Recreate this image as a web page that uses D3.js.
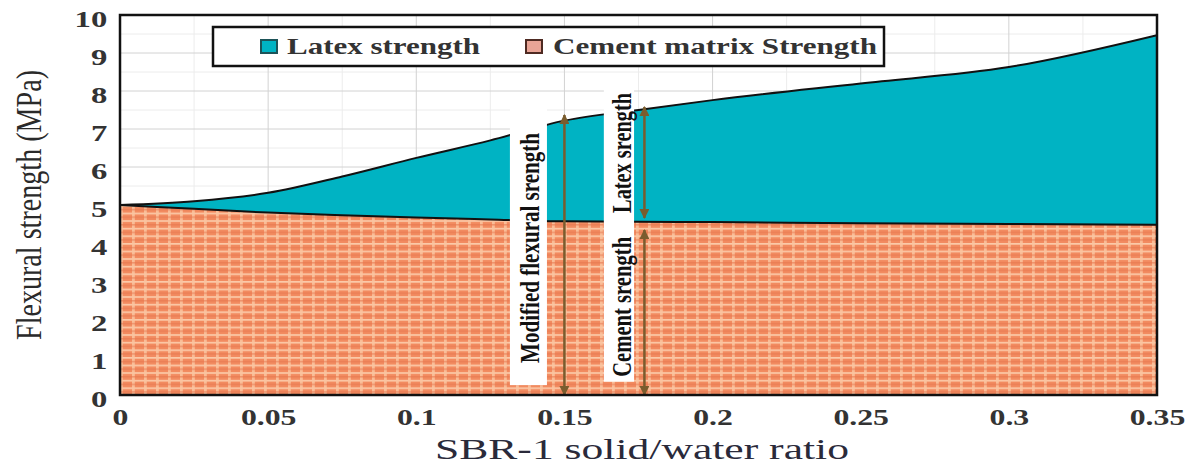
<!DOCTYPE html>
<html>
<head>
<meta charset="utf-8">
<script src="https://cdn.jsdelivr.net/npm/d3@7"></script>
<style>
body { margin: 0; background: #fff; }
svg { display: block; font-family: 'Liberation Serif', 'Times New Roman', serif; }
</style>
</head>
<body>
<svg id="chart"></svg>
<script>
// values
var ratio = [0, 0.025, 0.05, 0.075, 0.1, 0.125, 0.15, 0.175, 0.2, 0.25, 0.3, 0.35];
var cementStrength = [5.0, 4.9, 4.8, 4.73, 4.67, 4.62, 4.57, 4.56, 4.55, 4.52, 4.5, 4.48];
var latexStrength = [0, 0.2, 0.52, 1.02, 1.57, 2.08, 2.65, 2.94, 3.21, 3.68, 4.13, 4.99];
var xTicks = [0, 0.05, 0.1, 0.15, 0.2, 0.25, 0.3, 0.35];
var xTickLabels = ['0', '0.05', '0.1', '0.15', '0.2', '0.25', '0.3', '0.35'];
var yTicks = [0, 1, 2, 3, 4, 5, 6, 7, 8, 9, 10];
var yTickLabels = ['0', '1', '2', '3', '4', '5', '6', '7', '8', '9', '10'];
var legendLabels = ['Latex strength', 'Cement matrix Strength'];

// annotations (data units)
var arrowX = [0.15, 0.177, 0.177];
var arrowFrom = [0, 4.66, 0];
var arrowTo = [7.37, 7.58, 4.34];
var boxX0 = [0.1316, 0.1633];
var boxX1 = [0.1441, 0.1735];
var boxY0 = [0.26, 0.35];
var boxY1 = [7.8, 8.1];
var noteText = ['Modified flexural srength', 'Latex srength', 'Cement srength'];
var noteX = [0.1384, 0.1694, 0.1694];
var noteY = [3.87, 6.37, 2.32];
var noteLen = [230, 120, 140];

var svgWidth = 1185;
var svgHeight = 466;
var plotLeft = 120, plotRight = 1157, plotTop = 15, plotBottom = 395;
var teal = '#00b3c3';
var arrowColor = '#7a5c2e';

var svg = d3.select('#chart')
	.attr('width', svgWidth)
	.attr('height', svgHeight);

var xScale = d3.scaleLinear().domain([0, 0.35]).range([plotLeft, plotRight]);
var yScale = d3.scaleLinear().domain([0, 10]).range([plotBottom, plotTop]);

var defs = svg.append('defs');
var pat = defs.append('pattern')
	.attr('id', 'plaid')
	.attr('patternUnits', 'userSpaceOnUse')
	.attr('x', plotLeft).attr('y', plotTop)
	.attr('width', 12).attr('height', 7.6);
pat.append('rect').attr('width', 12).attr('height', 7.6).attr('fill', '#f28b60');
pat.append('rect').attr('x', 0).attr('y', 0).attr('width', 12).attr('height', 1.7).attr('fill', '#fbc9a8');
pat.append('rect').attr('x', 0).attr('y', 0).attr('width', 2.8).attr('height', 7.6).attr('fill', '#fac4a0').attr('opacity', 0.85);
pat.append('rect').attr('x', 0).attr('y', 4.2).attr('width', 12).attr('height', 0.9).attr('fill', '#e6774f');

defs.append('clipPath').attr('id', 'plotClip')
	.append('rect')
	.attr('x', plotLeft).attr('y', plotTop)
	.attr('width', plotRight - plotLeft).attr('height', plotBottom - plotTop);

defs.append('marker')
	.attr('id', 'head')
	.attr('viewBox', '0 0 10 10')
	.attr('refX', 9).attr('refY', 5)
	.attr('markerWidth', 10).attr('markerHeight', 10)
	.attr('markerUnits', 'userSpaceOnUse')
	.attr('orient', 'auto-start-reverse')
	.append('path')
	.attr('d', 'M0,0L10,5L0,10Z')
	.attr('fill', arrowColor);

// grid
var grid = svg.append('g');
grid.selectAll('.vminor')
	.data(d3.range(1, 14, 2).map(i => i * 0.025))
	.enter().append('line')
	.attr('x1', d => xScale(d)).attr('x2', d => xScale(d))
	.attr('y1', plotTop).attr('y2', plotBottom)
	.attr('stroke', '#ececec');
grid.selectAll('.hminor')
	.data(d3.range(0, 10).map(i => i + 0.5))
	.enter().append('line')
	.attr('x1', plotLeft).attr('x2', plotRight)
	.attr('y1', d => yScale(d)).attr('y2', d => yScale(d))
	.attr('stroke', '#ececec');
grid.selectAll('.vmajor')
	.data(xTicks)
	.enter().append('line')
	.attr('x1', d => xScale(d)).attr('x2', d => xScale(d))
	.attr('y1', plotTop).attr('y2', plotBottom)
	.attr('stroke', '#d2d2d2');
grid.selectAll('.hmajor')
	.data(yTicks)
	.enter().append('line')
	.attr('x1', plotLeft).attr('x2', plotRight)
	.attr('y1', d => yScale(d)).attr('y2', d => yScale(d))
	.attr('stroke', '#d2d2d2');

// stacked areas
var rows = ratio.map((r, i) => ({ratio: r, cement: cementStrength[i], latex: latexStrength[i]}));
var series = d3.stack().keys(['cement', 'latex'])(rows);
var area = d3.area()
	.x(d => xScale(d.data.ratio))
	.y0(d => yScale(d[0]))
	.y1(d => yScale(d[1]))
	.curve(d3.curveMonotoneX);
var line = d3.line()
	.x(d => xScale(d.data.ratio))
	.y(d => yScale(d[1]))
	.curve(d3.curveMonotoneX);

var plot = svg.append('g').attr('clip-path', 'url(#plotClip)');
plot.selectAll('path.area')
	.data(series)
	.enter().append('path')
	.attr('class', 'area')
	.attr('d', area)
	.attr('fill', d => d.key === 'cement' ? 'url(#plaid)' : teal);
plot.selectAll('path.edge')
	.data(series)
	.enter().append('path')
	.attr('class', 'edge')
	.attr('d', line)
	.attr('fill', 'none')
	.attr('stroke', '#111')
	.attr('stroke-width', 2);

// white label boxes
plot.selectAll('rect.box')
	.data(boxX0)
	.enter().append('rect')
	.attr('class', 'box')
	.attr('x', d => xScale(d))
	.attr('width', (d, i) => xScale(boxX1[i]) - xScale(d))
	.attr('y', (d, i) => yScale(boxY1[i]))
	.attr('height', (d, i) => yScale(boxY0[i]) - yScale(boxY1[i]))
	.attr('fill', '#fff');

// arrows
plot.selectAll('line.arrow')
	.data(arrowX)
	.enter().append('line')
	.attr('class', 'arrow')
	.attr('x1', d => xScale(d)).attr('x2', d => xScale(d))
	.attr('y1', (d, i) => yScale(arrowFrom[i]))
	.attr('y2', (d, i) => yScale(arrowTo[i]))
	.attr('stroke', arrowColor)
	.attr('stroke-width', 2.5)
	.attr('marker-start', 'url(#head)')
	.attr('marker-end', 'url(#head)');

// rotated notes
svg.selectAll('text.note')
	.data(noteText)
	.enter().append('text')
	.attr('class', 'note')
	.attr('transform', (d, i) => `translate(${xScale(noteX[i])},${yScale(noteY[i])}) scale(1.35,1) rotate(-90)`)
	.attr('text-anchor', 'middle')
	.attr('dy', '0.33em')
	.attr('font-size', 21)
	.attr('font-weight', 'bold')
	.attr('fill', '#111')
	.attr('textLength', (d, i) => noteLen[i])
	.attr('lengthAdjust', 'spacingAndGlyphs')
	.text(d => d);

// frame
svg.append('rect')
	.attr('x', plotLeft).attr('y', plotTop)
	.attr('width', plotRight - plotLeft).attr('height', plotBottom - plotTop)
	.attr('fill', 'none')
	.attr('stroke', '#111')
	.attr('stroke-width', 2.5);

// axes
var xAxis = d3.axisBottom(xScale)
	.tickValues(xTicks)
	.tickFormat((d, i) => xTickLabels[i])
	.tickSize(0);
var yAxis = d3.axisLeft(yScale)
	.tickValues(yTicks)
	.tickFormat((d, i) => yTickLabels[i])
	.tickSize(0);

var gx = svg.append('g')
	.attr('transform', `translate(0,${plotBottom})`)
	.call(xAxis);
gx.select('.domain').remove();
gx.selectAll('text')
	.attr('y', 30).attr('dy', 0)
	.attr('transform', 'scale(1.38,1)')
	.attr('font-family', "'Liberation Serif', serif")
	.attr('font-size', 23)
	.attr('font-weight', 'bold')
	.attr('fill', '#333');

var gy = svg.append('g')
	.attr('transform', `translate(${plotLeft},0)`)
	.call(yAxis);
gy.select('.domain').remove();
gy.selectAll('text')
	.attr('x', -9).attr('dy', '0.48em')
	.attr('transform', 'scale(1.42,1)')
	.attr('font-family', "'Liberation Serif', serif")
	.attr('font-size', 23)
	.attr('font-weight', 'bold')
	.attr('fill', '#333');

// axis titles
svg.append('text')
	.attr('x', 642)
	.attr('y', 459)
	.attr('text-anchor', 'middle')
	.attr('font-size', 29)
	.attr('fill', '#2a2a3a')
	.attr('textLength', 414)
	.attr('lengthAdjust', 'spacingAndGlyphs')
	.text('SBR-1 solid/water ratio');
svg.append('text')
	.attr('transform', 'translate(29,205) scale(1.4,1) rotate(-90)')
	.attr('text-anchor', 'middle')
	.attr('dy', '0.33em')
	.attr('font-size', 25)
	.attr('fill', '#2a2a2a')
	.attr('textLength', 270)
	.attr('lengthAdjust', 'spacingAndGlyphs')
	.text('Flexural strength (MPa)');

// legend
var legend = svg.append('g');
legend.append('rect')
	.attr('x', 213).attr('y', 27)
	.attr('width', 671).attr('height', 39)
	.attr('fill', '#fff')
	.attr('stroke', '#111')
	.attr('stroke-width', 2.5);
var swatchX = [261, 526];
var labelX = [287, 553];
var labelLen = [193, 324];
legend.selectAll('rect.sw')
	.data(legendLabels)
	.enter().append('rect')
	.attr('class', 'sw')
	.attr('x', (d, i) => swatchX[i]).attr('y', 40)
	.attr('width', 16).attr('height', 13)
	.attr('fill', (d, i) => i === 0 ? teal : '#e9a496')
	.attr('stroke', (d, i) => i === 0 ? '#1d5358' : '#4e2a22')
	.attr('stroke-width', 2);
legend.selectAll('text')
	.data(legendLabels)
	.enter().append('text')
	.attr('x', (d, i) => labelX[i]).attr('y', 54)
	.attr('font-size', 24)
	.attr('font-weight', 'bold')
	.attr('fill', '#333')
	.attr('textLength', (d, i) => labelLen[i])
	.attr('lengthAdjust', 'spacingAndGlyphs')
	.text(d => d);
</script>
</body>
</html>
